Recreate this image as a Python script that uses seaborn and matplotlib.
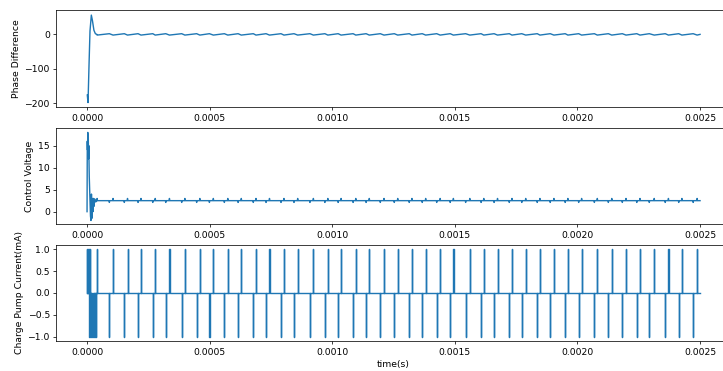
import numpy as np
import pandas as pd
import matplotlib
matplotlib.use("Agg")
import matplotlib.pyplot as plt
import seaborn as sns

# ---- data (times in microseconds) ----
# Charge-pump UP pulses (+1 mA): start-up burst, then one per reference cycle
up_burst_us = [0.5, 2.5, 4.5, 6.5, 8.5, 10.5]
up_pulse_us = [41, 106, 165, 220, 278, 336, 399, 460, 515, 574, 629, 689, 744,
               803, 859, 923, 982, 1036, 1096, 1151, 1211, 1267, 1325, 1381,
               1440, 1494, 1561, 1618, 1674, 1733, 1789, 1847, 1904, 1961,
               2017, 2081, 2140, 2198, 2255, 2313, 2371, 2426, 2488]
# Charge-pump DOWN pulses (-1 mA)
down_burst_us = [9.5, 12, 14.5, 17, 19.5, 22, 24.5, 27, 29.5, 32, 34.5]
down_pulse_us = [91, 152, 208, 268, 321, 386, 447, 499, 560, 616, 678, 730,
                 791, 844, 909, 970, 1024, 1085, 1138, 1196, 1253, 1314, 1367,
                 1426, 1481, 1544, 1607, 1660, 1722, 1773, 1836, 1889, 1950,
                 2005, 2069, 2126, 2183, 2242, 2293, 2358, 2413, 2472]
t_end_us = 2500

# Phase difference start-up transient (time us, degrees)
phase_tr_t = [1, 4, 8, 12, 17.5, 22, 28, 34, 40]
phase_tr_v = [-176, -198, -90, 10, 56, 40, 12, 2, 0]
phase_ripple_up = -2.0     # level at each UP pulse
phase_ripple_down = 2.0    # level at each DOWN pulse

# Control voltage start-up transient (time us, volts)
ctrl_tr_t = [0, 1, 2, 3, 4, 5, 6, 7, 9, 12, 14, 16, 18, 20, 22, 24, 26, 28, 31, 35, 40]
ctrl_tr_v = [0, 16, 14, 18, 13, 17.5, 12, 15, 8, 3, -1, -2, 4, -1.5, 3, 0, 3, 1.2, 2.9, 2.2, 2.5]
ctrl_steady = 2.5
ctrl_up_peak = 3.0
ctrl_down_dip = 2.1

US = 1e-6

# ---- build traces ----
ups = [(t, 1.0) for t in up_burst_us + up_pulse_us]
downs = [(t, -1.0) for t in down_burst_us + down_pulse_us]
events = sorted(ups + downs)

w = 0.5
cp_t, cp_i = [0.0], [0.0]
for t, s in events:
    cp_t += [t, t, t + w, t + w]
    cp_i += [0.0, s, s, 0.0]
cp_t.append(t_end_us)
cp_i.append(0.0)

ph_t = list(phase_tr_t)
ph_v = list(phase_tr_v)
for t, s in sorted(downs[len(down_burst_us):] + ups[len(up_burst_us):]):
    ph_t.append(t)
    ph_v.append(phase_ripple_down if s < 0 else phase_ripple_up)
ph_t.append(t_end_us)
ph_v.append(0.0)

cv_t = list(ctrl_tr_t)
cv_v = list(ctrl_tr_v)
for t, s in sorted(downs[len(down_burst_us):] + ups[len(up_burst_us):]):
    lvl = ctrl_up_peak if s > 0 else ctrl_down_dip
    cv_t += [t - 1.5, t, t + 1.5]
    cv_v += [ctrl_steady, lvl, ctrl_steady]
cv_t.append(t_end_us)
cv_v.append(ctrl_steady)

df_ph = pd.DataFrame({"t": np.array(ph_t) * US, "v": ph_v})
df_cv = pd.DataFrame({"t": np.array(cv_t) * US, "v": cv_v})
df_cp = pd.DataFrame({"t": np.array(cp_t) * US, "v": cp_i})

# ---- figure ----
DPI = 67
W, H = 723, 371
fig = plt.figure(figsize=(W / DPI, H / DPI), dpi=DPI)

left = 56.4 / W
width = 674.3 / W
rows = [(10, 107), (128, 224), (245, 341)]
axes = []
for top, bot in rows:
    axes.append(fig.add_axes([left, 1 - bot / H, width, (bot - top) / H]))

for ax, df in zip(axes, [df_ph, df_cv, df_cp]):
    sns.lineplot(data=df, x="t", y="v", ax=ax, sort=False, estimator=None,
                 color="#1f77b4", linewidth=1.5)
    ax.set_xlabel("")
    ax.set_xticks([0, 0.0005, 0.0010, 0.0015, 0.0020, 0.0025])
    ax.set_xticklabels(["0.0000", "0.0005", "0.0010", "0.0015", "0.0020", "0.0025"])
    ax.set_xlim(-0.000125, 0.002625)

axes[0].set_ylabel("Phase Difference")
axes[0].set_yticks([-200, -100, 0])
axes[0].set_ylim(-210.8, 70.8)

axes[1].set_ylabel("Control Voltage")
axes[1].set_yticks([0, 5, 10, 15])
axes[1].set_ylim(-2.8, 19.0)

axes[2].set_ylabel("Charge Pump Current(mA)")
axes[2].set_yticks([-1.0, -0.5, 0.0, 0.5, 1.0])
axes[2].set_ylim(-1.1, 1.1)
axes[2].set_xlabel("time(s)")

fig.savefig("out.png", dpi=DPI)
